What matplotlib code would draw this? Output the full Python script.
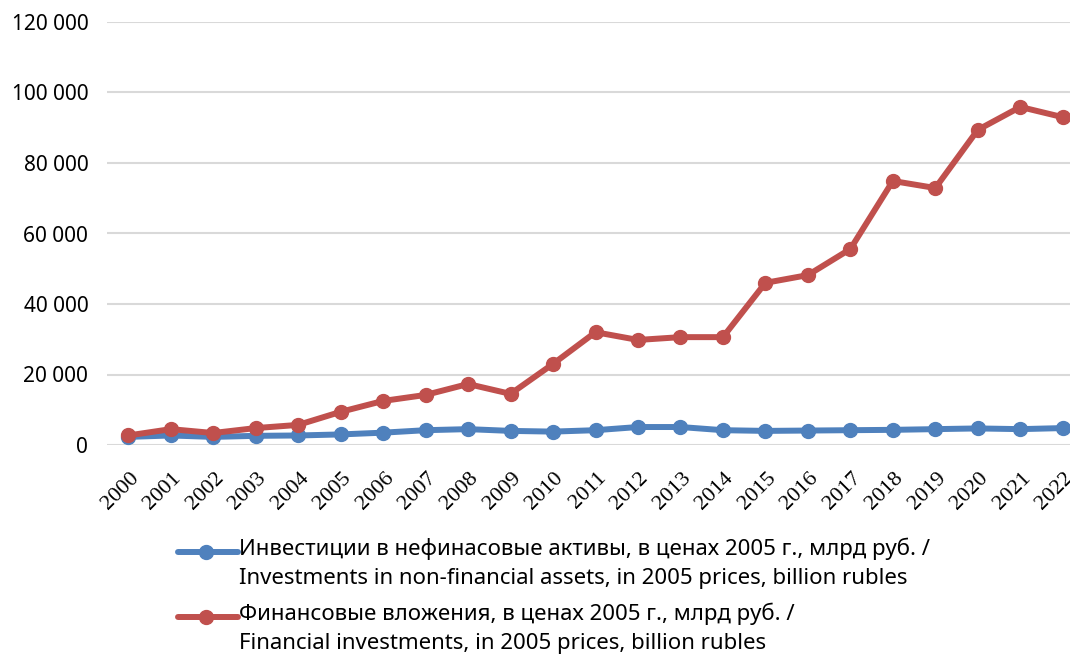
import matplotlib
matplotlib.use("Agg")
import matplotlib.pyplot as plt
import matplotlib.transforms as mtransforms
from matplotlib.lines import Line2D
from matplotlib.ticker import FuncFormatter

years = list(range(2000, 2023))
nonfin = [2300, 2700, 2300, 2600, 2700, 3000, 3500, 4200, 4500, 4000, 3800, 4200,
          5100, 5100, 4200, 4000, 4100, 4200, 4300, 4500, 4700, 4500, 4800]
fin = [2700, 4500, 3400, 4800, 5700, 9400, 12500, 14200, 17300, 14500, 23000, 32000,
       29800, 30600, 30600, 46000, 48200, 55600, 74900, 72900, 89400, 95900, 93000]
labels = ["Инвестиции в нефинасовые активы, в ценах 2005 г., млрд руб. /\n"
          "Investments in non-financial assets, in 2005 prices, billion rubles",
          "Финансовые вложения, в ценах 2005 г., млрд руб. /\n"
          "Financial investments, in 2005 prices, billion rubles"]
colors = ["#4F81BD", "#C0504D"]

W, H = 1070, 657
fig = plt.figure(figsize=(W / 100, H / 100), dpi=100)
ax = fig.add_axes([107 / W, 1 - 445 / H, 977 / W, 423 / H])

x = list(range(len(years)))
for vals, c, z in [(nonfin, colors[0], 3), (fin, colors[1], 4)]:
    ax.plot(x, vals, color=c, lw=4.3, marker="o", ms=10,
            solid_capstyle="round", clip_on=False, zorder=z)

ax.set_xlim(-0.5, len(years) - 0.5)
ax.set_ylim(0, 120000)
ax.set_yticks(range(0, 120001, 20000))
ax.yaxis.set_major_formatter(FuncFormatter(lambda v, p: f"{int(v):,}".replace(",", " ")))
ax.set_xticks(x)
ax.set_xticklabels([str(y) for y in years])
ax.grid(axis="y", color="#D9D9D9", lw=1.5)
ax.set_axisbelow(True)
for s in ax.spines.values():
    s.set_visible(False)
ax.tick_params(length=0)
ax.tick_params(axis="y", pad=13.5, labelsize=15, labelfontfamily="Noto Sans")
ax.tick_params(axis="x", pad=17, labelsize=16, labelrotation=45,
               labelfontfamily="Liberation Serif")
shift = mtransforms.ScaledTranslation(1 / 100, 0, fig.dpi_scale_trans)
for t in ax.get_xticklabels():
    t.set_ha("right")
    t.set_rotation_mode("anchor")
    t.set_transform(t.get_transform() + shift)

# legend drawn by hand: handle level with the first text line
leg_font = {"family": "Noto Sans", "stretch": "condensed", "size": 16}
for i, (lab, c) in enumerate(zip(labels, colors)):
    yc = 1 - (552 + 65 * i) / H
    fig.add_artist(Line2D([178 / W, 238 / W], [yc, yc], color=c, lw=4.3,
                          solid_capstyle="round", transform=fig.transFigure))
    fig.add_artist(Line2D([206 / W], [yc], color=c, marker="o", ms=10,
                          transform=fig.transFigure))
    fig.text(239 / W, yc + 14 / H, lab, ha="left", va="top", linespacing=1.45,
             fontdict=leg_font)

fig.savefig("out.png", dpi=100)
